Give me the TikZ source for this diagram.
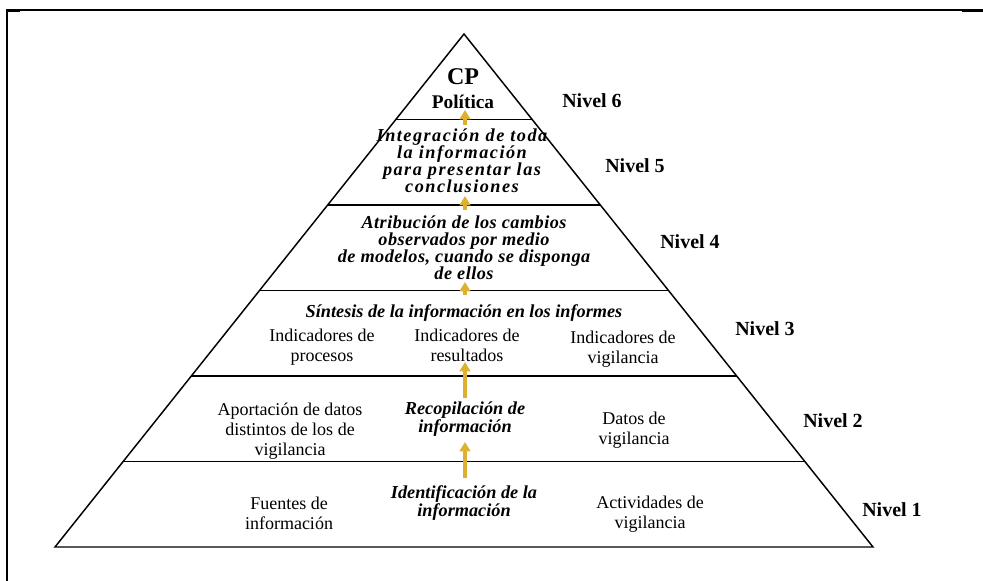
\documentclass[tikz,border=0pt]{standalone}
\usepackage{fontspec}
\setmainfont{Liberation Serif}
\newfontfamily\ancha[LetterSpace=8]{Liberation Serif}
\newfontfamily\media[LetterSpace=2.5]{Liberation Serif}
\usetikzlibrary{arrows.meta,positioning,calc}
\definecolor{oro}{RGB}{222,176,46}

\begin{document}
\begin{tikzpicture}[x=0.75pt,y=-0.75pt,
  txt/.style={align=center,font=\fontsize{13.5}{15}\selectfont},
  cursiva/.style={align=center,font=\fontsize{13.7}{13.6}\selectfont\bfseries\itshape},
  ancha/.style={align=center,font=\fontsize{13.7}{12.7}\selectfont\ancha\bfseries\itshape},
  media/.style={align=center,font=\fontsize{13.7}{12.8}\selectfont\media\bfseries\itshape},
  nivel/.style={font=\fontsize{15}{18}\selectfont\bfseries},
  sube/.style={oro,line width=2.7pt,-{Triangle[width=8pt,length=7pt]}}]

  \useasboundingbox (0,0) rectangle (983,581);

  % marco
  \draw[line width=0.9pt] (983,10) -- (7,10);
  \draw[line width=1.6pt] (7,10) -- (7,581);
  \draw[line width=2pt] (6,10.5) -- (20,10.5) (962,10.5) -- (983,10.5);

  % piramide
  \coordinate (top) at (464,34);
  \coordinate (bl) at (55,547);
  \coordinate (br) at (873,547);
  \draw[line width=1.1pt] (top) -- (bl) -- (br) -- cycle;
  \foreach \k in {1,...,5}
    \draw[line width=1.3pt] ($(top)!\k/6!(bl)$) -- ($(top)!\k/6!(br)$);

  % nivel 6
  \node[font=\fontsize{18}{20}\selectfont\bfseries] (cp) at (463,77) {CP};
  \node[font=\fontsize{14.5}{15}\selectfont\bfseries] (pol) at (463,102) {Política};

  % nivel 5 y 4
  \node[ancha] (integ) at (462,161) {Integración de toda\\la información\\para presentar las\\conclusiones};
  \node[media] (atrib) at (464,248) {Atribución de los cambios\\observados por medio\\de modelos, cuando se disponga\\de ellos};

  % nivel 3
  \node[cursiva] (sint) at (464,313) {Síntesis de la información en los informes};
  \node[txt] (procesos) at (322,347) {Indicadores de\\procesos};
  \node[txt] (result) at (467,345) {Indicadores de\\resultados};
  \node[txt] (indvig) at (623,349) {Indicadores de\\vigilancia};

  % nivel 2
  \node[txt] (aport) at (290,431) {Aportación de datos\\distintos de los de\\vigilancia};
  \node[cursiva] (recop) at (465,419) {Recopilación de\\información};
  \node[txt] (datos) at (634,430) {Datos de\\vigilancia};

  % nivel 1
  \node[txt] (fuentes) at (289,513) {Fuentes de\\información};
  \node[cursiva] (ident) at (464,503) {Identificación de la\\información};
  \node[txt] (activ) at (650,514) {Actividades de\\vigilancia};

  % etiquetas de nivel
  \node[nivel] (n6) at (592,101) {Nivel 6};
  \node[nivel] (n5) at (635,166) {Nivel 5};
  \node[nivel] (n4) at (690,242) {Nivel 4};
  \node[nivel] (n3) at (765,329) {Nivel 3};
  \node[nivel] (n2) at (833,421) {Nivel 2};
  \node[nivel] (n1) at (892,510) {Nivel 1};

  % flechas
  \foreach \i/\de/\a in {1/478/442, 2/398/362, 3/295/282, 4/210/196, 5/125/110}{
    \coordinate (pie\i) at (465,\de);
    \coordinate (punta\i) at (465,\a);
    \draw[sube] (pie\i) -- (punta\i);
  }

\end{tikzpicture}
\end{document}
